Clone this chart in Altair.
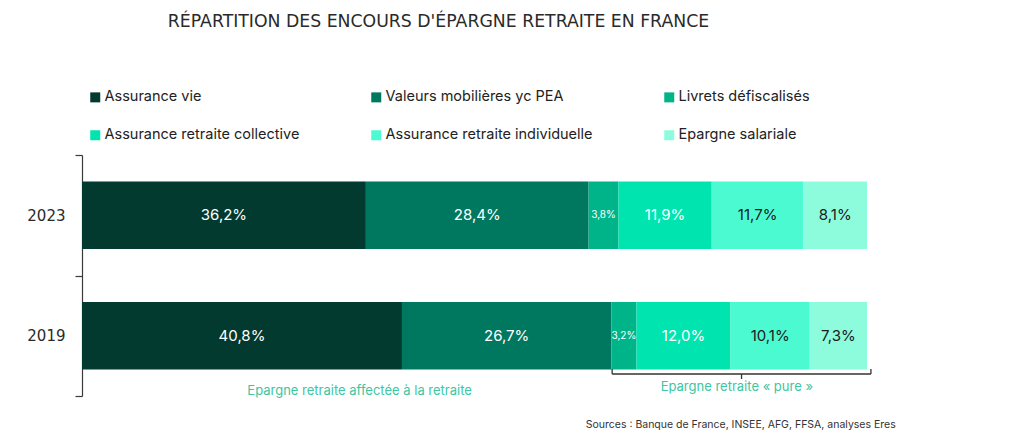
import altair as alt
import pandas as pd

years = ["2023", "2019"]
categories = [
    "Assurance vie",
    "Valeurs mobilières yc PEA",
    "Livrets défiscalisés",
    "Assurance retraite collective",
    "Assurance retraite individuelle",
    "Epargne salariale",
]
values_2023 = [36.2, 28.4, 3.8, 11.9, 11.7, 8.1]
values_2019 = [40.8, 26.7, 3.2, 12.0, 10.1, 7.3]
colors = ["#023A30", "#00785F", "#00B48A", "#00E5B0", "#4CFAD2", "#8DFCDD"]
dark_label_cats = ["Assurance retraite individuelle", "Epargne salariale"]

title_text = "RÉPARTITION DES ENCOURS D'ÉPARGNE RETRAITE EN FRANCE"
note_left = "Epargne retraite affectée à la retraite"
note_right = "Epargne retraite « pure »"
source_text = "Sources : Banque de France, INSEE, AFG, FFSA, analyses Eres"

rows = []
for year, vals in zip(years, [values_2023, values_2019]):
    start = 0.0
    for i, (cat, v) in enumerate(zip(categories, vals)):
        rows.append({"year": year, "cat": cat, "order": i, "value": v,
                     "start": start, "end": start + v, "mid": start + v / 2})
        start += v
df = pd.DataFrame(rows)

# bracket for "pure" retirement savings (starts at Livrets défiscalisés of 2019)
pure_start = sum(values_2019[:2]) + 0.1
pure_end = 100.6
pure_mid = (pure_start + pure_end) / 2
left_mid = 35.4
source_mid = 84.0

FONT = "Inter"
W, H = 785, 241

xscale = alt.Scale(domain=[0, 100.1], nice=False, zero=False)
yscale = alt.Scale(domain=years, paddingInner=0, paddingOuter=0)

base = alt.Chart(df)

bars = base.mark_bar(height={"band": 0.56}).encode(
    x=alt.X("start:Q", scale=xscale, axis=None),
    x2="end:Q",
    y=alt.Y("year:N", scale=yscale, sort=years, title=None,
            axis=alt.Axis(tickBand="extent", tickSize=7, domainColor="#3a3a3a",
                          tickColor="#3a3a3a", labelFontSize=15, labelColor="#2a2a2a",
                          labelPadding=10, labelFont="DejaVu Sans", domainWidth=1.2,
                          tickWidth=1.2, grid=False)),
    color=alt.Color("cat:N", scale=alt.Scale(domain=categories, range=colors),
                    legend=alt.Legend(title=None, orient="none", legendX=6, legendY=-65,
                                      direction="horizontal", columns=3, gridAlign="each",
                                      columnPadding=69, rowPadding=23, symbolType="square",
                                      symbolSize=100, symbolStrokeWidth=0, labelFontSize=14.5,
                                      labelFont=FONT, labelColor="#222222", labelOffset=2,
                                      labelLimit=400, padding=0)),
    order="order:Q",
)

labels = base.transform_calculate(
    label="replace(format(datum.value, '.1f'), '.', ',') + '%'"
).mark_text(font=FONT, baseline="middle", align="center").encode(
    x=alt.X("mid:Q", scale=xscale),
    y=alt.Y("year:N", scale=yscale, sort=years),
    text="label:N",
    size=alt.condition("datum.value < 5", alt.value(10), alt.value(15)),
    color=alt.condition(alt.FieldOneOfPredicate(field="cat", oneOf=dark_label_cats),
                        alt.value("#1a1a1a"), alt.value("#ffffff")),
)

bracket_df = pd.DataFrame({"s": [pure_start], "e": [pure_end], "m": [pure_mid]})
bb = alt.Chart(bracket_df)
b_h = bb.mark_rule(color="#333333", strokeWidth=1.3).encode(
    x=alt.X("s:Q", scale=xscale), x2="e:Q", y=alt.value(219))
b_l = bb.mark_rule(color="#333333", strokeWidth=1.3).encode(
    x=alt.X("s:Q", scale=xscale), y=alt.value(214), y2=alt.value(219))
b_r = bb.mark_rule(color="#333333", strokeWidth=1.3).encode(
    x=alt.X("e:Q", scale=xscale), y=alt.value(214), y2=alt.value(219))
b_m = bb.mark_rule(color="#333333", strokeWidth=1.3).encode(
    x=alt.X("m:Q", scale=xscale), y=alt.value(219), y2=alt.value(224))

notes_df = pd.DataFrame({
    "x": [left_mid, pure_mid - 0.6],
    "t": [note_left, note_right],
    "py": [236, 232],
})
notes = alt.Chart(notes_df).mark_text(font=FONT, fontSize=13, color="#3CC6A2",
                                      baseline="middle", align="center").encode(
    x=alt.X("x:Q", scale=xscale), y=alt.Y("py:Q", scale=None), text="t:N")

src_df = pd.DataFrame({"x": [source_mid], "t": [source_text]})
src = alt.Chart(src_df).mark_text(font=FONT, fontSize=10.5, color="#333333",
                                  baseline="middle", align="center").encode(
    x=alt.X("x:Q", scale=xscale), y=alt.value(270), text="t:N")

chart = alt.layer(bars, labels, b_h, b_l, b_r, b_m, notes, src).properties(
    width=W, height=H,
    title=alt.TitleParams(title_text, font="DejaVu Sans", fontSize=17.3,
                          fontWeight="normal", color="#2a2a2a", anchor="middle",
                          dx=-36, offset=60),
    autosize=alt.AutoSizeParams(type="none"),
    padding={"left": 74, "top": 147, "right": 149, "bottom": 34},
).configure_view(stroke=None)

chart.save("out.html", embed_options={"renderer": "svg", "actions": False})
